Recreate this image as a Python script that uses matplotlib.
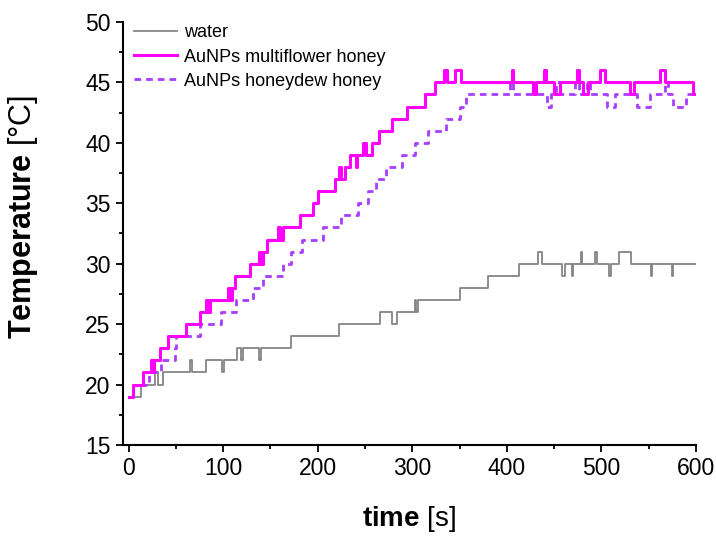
import matplotlib
matplotlib.use("Agg")
import matplotlib.pyplot as plt
from matplotlib.ticker import MultipleLocator

plt.rcParams['font.family'] = ['Liberation Sans', 'DejaVu Sans']
plt.rcParams['mathtext.fontset'] = 'custom'
plt.rcParams['mathtext.rm'] = 'Liberation Sans'
plt.rcParams['mathtext.bf'] = 'Liberation Sans:bold'

# Tiempos (s) en que cambia cada serie y temperatura (°C) desde ese instante
t_water = [0, 13, 27.5, 31, 36, 65, 67, 82, 99, 101, 115, 119, 121, 138, 140,
           172, 222, 266, 279, 284, 303, 304, 306, 350, 380, 413, 433, 437,
           458, 462, 468.5, 470, 478.5, 480, 493.5, 495, 508.5, 510, 519, 531,
           552.5, 554, 574.5, 576, 600]
T_water = [19, 20, 21, 20, 21, 22, 21, 22, 21, 22, 23, 22, 23, 22, 23,
           24, 25, 26, 25, 26, 27, 26, 27, 28, 29, 30, 31, 30,
           29, 30, 29, 30, 31, 30, 31, 30, 29, 30, 31, 30,
           29, 30, 29, 30, 30]

t_multi = [0, 5, 15, 24, 26, 27, 33, 42, 61, 75, 82, 84, 86, 88, 105, 107,
           109, 112, 128, 138, 140, 142, 146, 158, 160, 163, 181, 195, 200,
           218, 222, 225, 229, 234, 240, 242, 248, 251, 257, 265, 278, 294,
           313, 324, 333, 337, 345, 352, 405, 407, 428, 431, 439, 441, 450,
           456, 474, 476, 481, 486, 499, 504, 530, 535, 562, 567, 597, 600]
T_multi = [19, 20, 21, 22, 21, 22, 23, 24, 25, 26, 27, 26, 27, 27, 28, 27,
           28, 29, 30, 31, 30, 31, 32, 33, 32, 33, 34, 35, 36,
           37, 38, 37, 38, 39, 38, 39, 40, 39, 40, 41, 42, 43,
           44, 45, 46, 45, 46, 45, 46, 45, 44, 45, 46, 45, 44,
           45, 46, 45, 44, 45, 46, 45, 44, 45, 46, 45, 44, 44]

t_dew = [0, 5, 22, 34.5, 49, 50, 75, 98, 113, 131, 142, 163, 172, 183, 205.6,
         225, 243, 253, 262, 272, 289, 303, 317, 336, 350, 357, 403, 406,
         442, 447, 452, 456, 472, 476, 485, 488, 506, 514, 538, 551, 567,
         570, 576, 590, 600]
T_dew = [19, 20, 21, 22, 23, 24, 25, 26, 27, 28, 29, 30, 31, 32, 33,
         34, 35, 36, 37, 38, 39, 40, 41, 42, 43, 44, 45, 44,
         43, 44, 45, 44, 45, 44, 45, 44, 43, 44, 43, 44, 45,
         44, 43, 44, 44]

fig = plt.figure(figsize=(7.16, 5.36), dpi=100)
ax = fig.add_axes([0.1718, 0.1698, 0.8002, 0.7892])

ax.plot(t_water, T_water, drawstyle='steps-post', color='#858585', lw=1.3,
        label='water', zorder=2)
ax.plot(t_dew, T_dew, drawstyle='steps-post', color='#A83CFF', lw=2.0,
        dashes=(2.4, 1.8), label='AuNPs honeydew honey', zorder=3)
ax.plot(t_multi, T_multi, drawstyle='steps-post', color='#FF00FF', lw=2.2,
        label='AuNPs multiflower honey', zorder=4)

ax.set_xlim(-6, 600)
ax.set_ylim(15, 50)
ax.xaxis.set_major_locator(MultipleLocator(100))
ax.xaxis.set_minor_locator(MultipleLocator(50))
ax.yaxis.set_major_locator(MultipleLocator(5))
ax.yaxis.set_minor_locator(MultipleLocator(2.5))
ax.tick_params(which='major', direction='out', length=5, width=1.3,
               labelsize=16.5, pad=4)
ax.tick_params(which='minor', direction='out', length=3, width=1.3)

for s in ['top', 'right']:
    ax.spines[s].set_visible(False)
for s in ['left', 'bottom']:
    ax.spines[s].set_linewidth(1.5)

ax.set_xlabel(r'$\mathbf{time}$ [s]', fontsize=20)
ax.set_ylabel(r'$\mathbf{Temperature}$ [°C]', fontsize=22)
ax.xaxis.set_label_coords(0.5, -0.14)
ax.yaxis.set_label_coords(-0.145, 0.54)

# orden de la leyenda como en el original
h, l = ax.get_legend_handles_labels()
order = [0, 2, 1]
ax.legend([h[i] for i in order], [l[i] for i in order], loc='upper left',
          frameon=False, fontsize=13, handlelength=2.4, handletextpad=0.4,
          labelspacing=0.4, borderaxespad=0.2, bbox_to_anchor=(0.0, 1.02))

plt.savefig("out.png", dpi=100)
